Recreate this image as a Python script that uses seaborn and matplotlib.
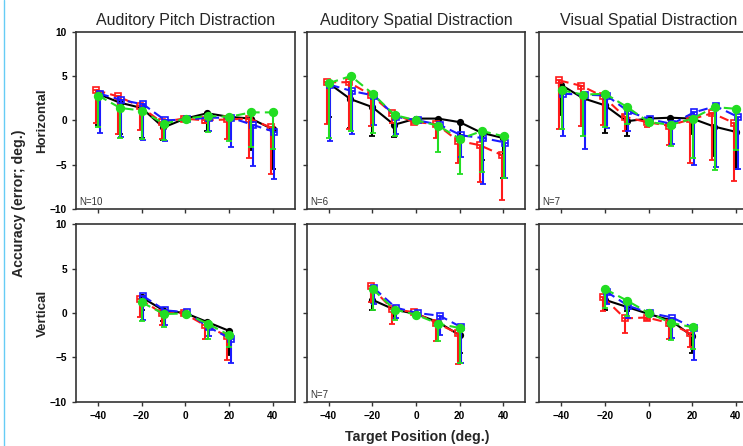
import matplotlib
matplotlib.use("Agg")
import matplotlib.pyplot as plt
from matplotlib.lines import Line2D
import numpy as np
import pandas as pd
import seaborn as sns

# target positions
x_h = [-40, -30, -20, -10, 0, 10, 20, 30, 40]
x_v = [-20, -10, 0, 10, 20]

titles = ["Auditory Pitch Distraction", "Auditory Spatial Distraction", "Visual Spatial Distraction"]
rows = ["Horizontal", "Vertical"]
n_top = ["N=10", "N=6", "N=7"]
n_bot = ["", "N=7", ""]

# --- auditory pitch, horizontal (mean, lower end of error bar)
ap_h_black = [3.0, 2.0, 1.4, -0.8, 0.2, 0.8, 0.4, 0.2, -1.0]
ap_h_black_lo = [-0.5, -1.5, -2.0, -2.2, 0.0, -1.2, -1.7, -3.3, -5.5]
ap_h_red = [3.4, 2.7, 1.6, -0.2, 0.2, 0.0, 0.1, 0.2, -0.8]
ap_h_red_lo = [-0.3, -1.5, -1.1, -2.1, 0.0, -0.3, -2.1, -4.2, -6.1]
ap_h_blue = [3.0, 2.3, 1.8, 0.0, 0.1, 0.3, 0.3, -0.5, -1.3]
ap_h_blue_lo = [-1.4, -1.9, -2.2, -2.3, -0.1, -1.2, -3.0, -5.1, -6.6]
ap_h_green = [2.8, 1.4, 1.1, -0.4, 0.2, 0.5, 0.4, 0.9, 0.9]
ap_h_green_lo = [-0.8, -2.0, -2.1, -2.2, -0.1, -1.3, -2.3, -3.0, -3.2]

# --- auditory spatial, horizontal
as_h_black = [4.2, 2.4, 1.5, -0.5, 0.2, 0.2, -0.2, -1.4, -2.0]
as_h_black_lo = [0.4, -0.9, -1.8, -1.9, 0.0, -1.0, -1.6, -4.5, -6.5]
as_h_red = [4.3, 4.3, 2.9, 0.8, -0.2, -0.4, -2.3, -2.8, -3.9]
as_h_red_lo = [-0.4, -1.0, -0.6, -0.3, -0.3, -2.0, -4.8, -7.0, -9.0]
as_h_blue = [4.0, 3.3, 2.8, 0.4, 0.0, -0.5, -1.7, -2.0, -2.5]
as_h_blue_lo = [-2.3, -1.5, -0.5, -1.5, -0.2, -0.9, -4.1, -7.2, -6.5]
as_h_green = [4.2, 5.0, 3.0, 0.6, 0.0, -0.6, -2.1, -1.2, -1.8]
as_h_green_lo = [-2.0, -1.2, -1.4, -1.8, -0.2, -3.6, -6.0, -5.8, -6.5]

# --- visual spatial, horizontal
vs_h_black = [4.0, 2.5, 1.7, -0.1, 0.2, 0.3, 0.2, -0.7, -1.3]
vs_h_black_lo = [0.6, -0.6, -1.4, -1.8, 0.0, -0.5, -1.5, -4.0, -5.5]
vs_h_red = [4.5, 3.9, 2.7, 0.4, -0.2, -0.6, 0.1, 0.8, -0.3]
vs_h_red_lo = [-1.0, -0.6, -0.5, -1.2, -0.8, -2.8, -4.8, -4.5, -6.8]
vs_h_blue = [3.0, 2.9, 2.8, 1.0, 0.1, -0.4, 0.9, 1.6, 0.4]
vs_h_blue_lo = [-1.8, -3.2, -0.9, -1.2, -0.2, -2.7, -5.0, -5.3, -5.5]
vs_h_green = [3.4, 2.9, 3.0, 1.5, -0.2, -0.5, 0.2, 1.5, 1.3]
vs_h_green_lo = [-1.0, -1.8, -0.8, -0.4, -0.3, -2.9, -4.3, -5.6, -3.4]

# --- vertical
ap_v_black = [1.8, 0.3, 0.0, -1.0, -2.0]
ap_v_black_lo = [0.3, -0.9, 0.0, -1.8, -4.7]
ap_v_red = [1.6, 0.0, 0.0, -1.4, -2.6]
ap_v_red_lo = [-0.4, -1.3, -0.1, -2.9, -5.3]
ap_v_blue = [1.9, 0.3, 0.1, -1.6, -2.9]
ap_v_blue_lo = [-0.8, -1.4, -0.1, -2.6, -5.6]
ap_v_green = [1.2, -0.1, -0.05, -1.2, -2.5]
ap_v_green_lo = [-0.9, -1.6, -0.1, -2.9, -3.8]

as_v_black = [1.5, 0.4, -0.1, -1.0, -2.5]
as_v_black_lo = [0.3, -0.5, -0.2, -2.0, -4.5]
as_v_red = [3.0, 0.45, 0.1, -1.1, -2.3]
as_v_red_lo = [1.3, -1.2, -0.1, -3.2, -5.8]
as_v_blue = [2.8, 0.6, 0.0, -0.3, -1.6]
as_v_blue_lo = [1.0, -0.5, -0.1, -2.5, -5.6]
as_v_green = [2.7, 0.4, -0.2, -1.2, -1.7]
as_v_green_lo = [0.3, -0.8, -0.3, -3.1, -5.6]

vs_v_black = [1.5, 0.7, -0.1, -0.8, -2.6]
vs_v_black_lo = [0.3, 0.2, -0.2, -1.5, -4.5]
vs_v_red = [1.8, -0.6, -0.5, -1.1, -2.3]
vs_v_red_lo = [0.2, -2.3, -0.8, -2.9, -3.8]
vs_v_blue = [2.4, 0.8, 0.0, -0.5, -1.7]
vs_v_blue_lo = [1.0, -0.6, -0.1, -2.8, -5.3]
vs_v_green = [2.7, 1.4, 0.0, -1.1, -1.6]
vs_v_green_lo = [0.6, -0.3, -0.1, -3.0, -4.1]

panels = [
    [(ap_h_black, ap_h_black_lo, ap_h_red, ap_h_red_lo, ap_h_blue, ap_h_blue_lo, ap_h_green, ap_h_green_lo),
     (as_h_black, as_h_black_lo, as_h_red, as_h_red_lo, as_h_blue, as_h_blue_lo, as_h_green, as_h_green_lo),
     (vs_h_black, vs_h_black_lo, vs_h_red, vs_h_red_lo, vs_h_blue, vs_h_blue_lo, vs_h_green, vs_h_green_lo)],
    [(ap_v_black, ap_v_black_lo, ap_v_red, ap_v_red_lo, ap_v_blue, ap_v_blue_lo, ap_v_green, ap_v_green_lo),
     (as_v_black, as_v_black_lo, as_v_red, as_v_red_lo, as_v_blue, as_v_blue_lo, as_v_green, as_v_green_lo),
     (vs_v_black, vs_v_black_lo, vs_v_red, vs_v_red_lo, vs_v_blue, vs_v_blue_lo, vs_v_green, vs_v_green_lo)],
]

# style per series: color, x-shift, marker, face, size, linestyle
styles = [
    ("black", 0.0, "o", "black", 4.0, "-"),
    ("#ff1a1a", -0.8, "s", "none", 5.0, (0, (4.5, 2.5))),
    ("#1a1aff", 0.8, "s", "none", 5.0, (0, (4.5, 2.5))),
    ("#22dd22", 0.2, "o", "#22dd22", 5.5, (0, (4.5, 2.5))),
]

sns.set_style("ticks")
plt.rcParams["font.family"] = ["Liberation Sans", "DejaVu Sans"]

fig = plt.figure(figsize=(7.43, 4.46), dpi=100)
lefts = [0.1023, 0.4128, 0.7258]
bottoms = [0.5314, 0.0993]
w, h = 0.2941, 0.3975

for r in range(2):
    xs = x_h if r == 0 else x_v
    for c in range(3):
        ax = fig.add_axes([lefts[c], bottoms[r], w, h])
        vals = panels[r][c]
        for k, (col, dx, mk, fc, ms, ls) in enumerate(styles):
            mean = np.array(vals[2 * k])
            lo = np.array(vals[2 * k + 1])
            xx = np.array(xs) + dx
            ax.errorbar(xx, mean, yerr=[mean - lo, np.zeros_like(mean)], fmt="none",
                        ecolor=col, elinewidth=1.5, capsize=2.5, capthick=1.3, zorder=2 + k)
            df = pd.DataFrame({"x": xx, "y": mean})
            sns.lineplot(data=df, x="x", y="y", ax=ax, color=col, linestyle=ls, lw=1.5,
                         marker=mk, markersize=ms, markerfacecolor=fc, markeredgecolor=col,
                         markeredgewidth=1.2, zorder=3 + k)
        ax.set_xlim(-50, 50)
        ax.set_ylim(-10, 10)
        ax.set_xticks([-40, -20, 0, 20, 40])
        ax.set_yticks([-10, -5, 0, 5, 10])
        ax.set_xlabel("")
        ax.set_ylabel("")
        for s in ax.spines.values():
            s.set_visible(True)
            s.set_color("#333333")
            s.set_linewidth(1.2)
        ax.tick_params(direction="out", length=3, width=1, colors="#333333",
                       labelsize=7.3, labelcolor="black")
        for t in ax.get_xticklabels() + ax.get_yticklabels():
            t.set_fontweight("bold")
        if r == 0:
            ax.tick_params(labelbottom=False)
            ax.set_title(titles[c], fontsize=11.5, pad=5)
        if c > 0:
            ax.tick_params(labelleft=False)
        else:
            ax.set_ylabel(rows[r], fontsize=9.5, fontweight="bold", labelpad=1)
        nl = n_top[c] if r == 0 else n_bot[c]
        if nl:
            ax.text(0.015, 0.01, nl, transform=ax.transAxes, fontsize=7,
                    color="#333333", ha="left", va="bottom")

fig.text(0.025, 0.545, "Accuracy (error; deg.)", rotation=90, fontsize=10.2,
         fontweight="bold", ha="center", va="center")
fig.text(0.561, 0.02, "Target Position (deg.)", fontsize=10.2,
         fontweight="bold", ha="center", va="center")
fig.add_artist(Line2D([0.006, 0.006], [0, 1], color="#66ccf5", lw=1))

fig.savefig("out.png", dpi=100)
